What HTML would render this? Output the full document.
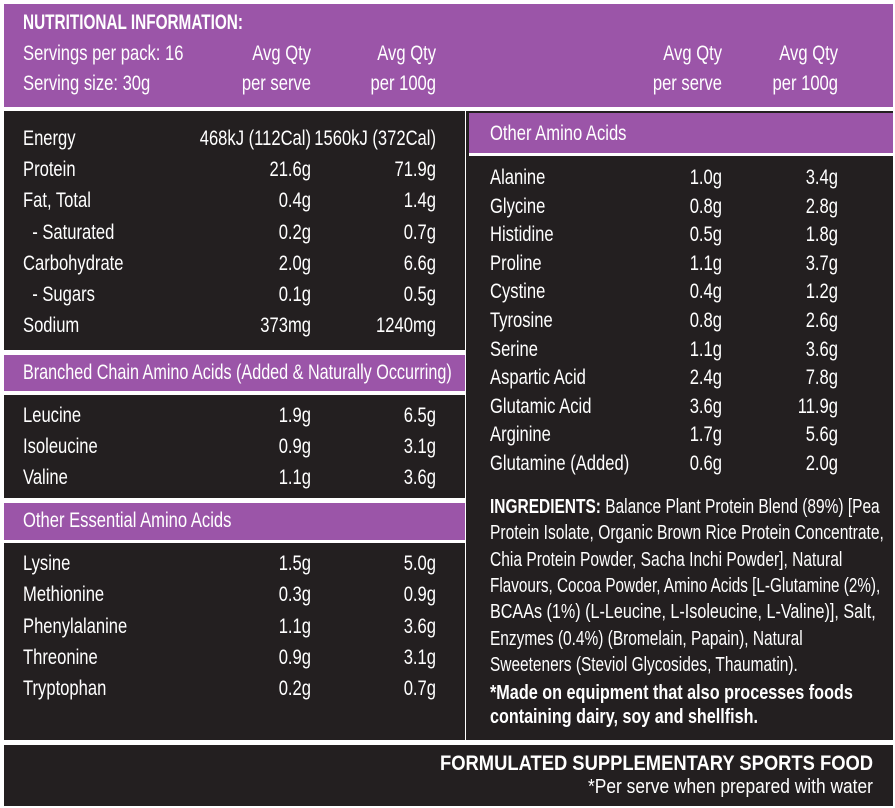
<!DOCTYPE html>
<html><head><meta charset="utf-8"><style>
body{margin:0;width:895px;height:808px;background:#fff;position:relative;overflow:hidden;font-family:"Liberation Sans",sans-serif;color:#fff;font-size:21px}
.b{position:absolute}
.p{background:#9b55a8}
.d{background:#231f20}
.t{position:absolute;line-height:26px;height:26px;white-space:nowrap;transform:scaleX(0.79);transform-origin:left center}
.r{transform-origin:right center;text-align:right}
</style></head><body>
<div class="b p" style="left:4px;top:4px;width:889px;height:103px"></div>
<div class="b d" style="left:4px;top:111px;width:461px;height:239px"></div>
<div class="b p" style="left:4px;top:355px;width:461px;height:36px"></div>
<div class="b d" style="left:4px;top:395px;width:461px;height:103px"></div>
<div class="b p" style="left:4px;top:503px;width:461px;height:37px"></div>
<div class="b d" style="left:4px;top:543px;width:461px;height:197px"></div>
<div class="b d" style="left:466px;top:111px;width:427px;height:629px"></div>
<div class="b p" style="left:469px;top:113px;width:424px;height:40px"></div>
<div class="b" style="left:469px;top:153px;width:424px;height:3px;background:#fff"></div>
<div class="b d" style="left:4px;top:745px;width:889px;height:61px"></div>
<div id="c"></div>
<script>
var H='';
function t(x,y,s,st){H+='<div class="t" style="left:'+x+'px;top:'+(y-13)+'px;'+(st||'')+'">'+s+'</div>';}
function r(x,y,s,st){H+='<div class="t r" style="left:'+(x-300)+'px;width:300px;top:'+(y-13)+'px;'+(st||'')+'">'+s+'</div>';}
function f(x,y,w,s,st){H+='<div class="t fit" data-w="'+w+'" style="left:'+x+'px;top:'+(y-13)+'px;'+(st||'')+'">'+s+'</div>';}
t(23,23,'NUTRITIONAL INFORMATION:','font-weight:bold;transform:scaleX(0.73)');
t(23,54,'Servings per pack: 16');t(23,84,'Serving size: 30g');
[[311,436],[722,838]].forEach(function(c){r(c[0],54,'Avg Qty');r(c[1],54,'Avg Qty');r(c[0],84,'per serve');r(c[1],84,'per 100g');});
function rows(x,a,b,y0,dy,L){L.forEach(function(l,i){var y=y0+i*dy;t(x,y,l[0]);r(a,y,l[1]);r(b,y,l[2]);});}
rows(23,311,436,139,31.2,[['Energy','468kJ (112Cal)','1560kJ (372Cal)'],['Protein','21.6g','71.9g'],['Fat, Total','0.4g','1.4g'],['&nbsp;&nbsp;- Saturated','0.2g','0.7g'],['Carbohydrate','2.0g','6.6g'],['&nbsp;&nbsp;- Sugars','0.1g','0.5g'],['Sodium','373mg','1240mg']]);
t(23,373,'Branched Chain Amino Acids (Added &amp; Naturally Occurring)','transform:scaleX(0.77)');
rows(23,311,436,416,31,[['Leucine','1.9g','6.5g'],['Isoleucine','0.9g','3.1g'],['Valine','1.1g','3.6g']]);
t(23,521,'Other Essential Amino Acids');
rows(23,311,436,564,31.3,[['Lysine','1.5g','5.0g'],['Methionine','0.3g','0.9g'],['Phenylalanine','1.1g','3.6g'],['Threonine','0.9g','3.1g'],['Tryptophan','0.2g','0.7g']]);
t(490,134,'Other Amino Acids');
rows(490,722,838,178,28.6,[['Alanine','1.0g','3.4g'],['Glycine','0.8g','2.8g'],['Histidine','0.5g','1.8g'],['Proline','1.1g','3.7g'],['Cystine','0.4g','1.2g'],['Tyrosine','0.8g','2.6g'],['Serine','1.1g','3.6g'],['Aspartic Acid','2.4g','7.8g'],['Glutamic Acid','3.6g','11.9g'],['Arginine','1.7g','5.6g'],['Glutamine (Added)','0.6g','2.0g']]);
var ing=[['<b>INGREDIENTS:</b> Balance Plant Protein Blend (89%) [Pea',390],['Protein Isolate, Organic Brown Rice Protein Concentrate,',394],['Chia Protein Powder, Sacha Inchi Powder], Natural',352],['Flavours, Cocoa Powder, Amino Acids [L-Glutamine (2%),',390],['BCAAs (1%) (L-Leucine, L-Isoleucine, L-Valine)], Salt,',386],['Enzymes (0.4%) (Bromelain, Papain), Natural',313],['Sweeteners (Steviol Glycosides, Thaumatin).',308]];
ing.forEach(function(s,i){f(490,507+i*26.3,s[1],s[0],'font-size:20px');});
f(490,693,363,'*Made on equipment that also processes foods','font-weight:bold;font-size:20px');
f(490,717,268,'containing dairy, soy and shellfish.','font-weight:bold;font-size:20px');
f(440,764,433,'FORMULATED SUPPLEMENTARY SPORTS FOOD','font-weight:bold;font-size:21px');
f(588,787,285,'*Per serve when prepared with water','font-size:20px');
document.getElementById('c').innerHTML=H;
document.querySelectorAll('.fit').forEach(function(e){var w=e.scrollWidth;e.style.transform='scaleX('+(e.getAttribute('data-w')/w)+')';});
</script>
</body></html>
